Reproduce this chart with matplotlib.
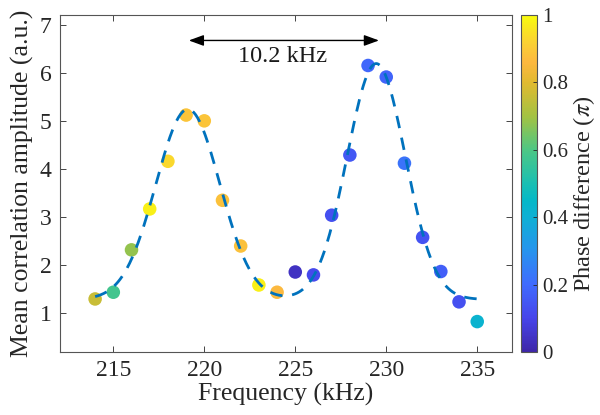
import numpy as np
import matplotlib
matplotlib.use("Agg")
import matplotlib.pyplot as plt
from matplotlib.colors import LinearSegmentedColormap

plt.rcParams["font.family"] = ["Liberation Serif", "DejaVu Serif"]
plt.rcParams["mathtext.fontset"] = "stix"

# measured points
freq = [214, 215, 216, 217, 218, 219, 220, 221, 222, 223, 224,
        225, 226, 227, 228, 229, 230, 231, 232, 233, 234, 235]
amp = [1.30, 1.44, 2.32, 3.17, 4.16, 5.12, 5.00, 3.35, 2.40, 1.59, 1.44,
       1.86, 1.80, 3.04, 4.29, 6.15, 5.91, 4.12, 2.58, 1.87, 1.24, 0.83]
phase = [0.76, 0.58, 0.68, 0.98, 0.93, 0.89, 0.89, 0.88, 0.88, 0.98, 0.86,
         0.04, 0.11, 0.13, 0.15, 0.19, 0.18, 0.22, 0.14, 0.17, 0.13, 0.42]

# double-gaussian fit (parameters)
fit_base = 1.29
fit_centers = [219.1, 229.45]
fit_heights = [3.95, 4.9]
fit_widths = [1.76, 1.6]
fit_range = [214, 235]

split_f = [219.15, 229.6]
split_label = "10.2 kHz"

# MATLAB parula-like map
parula = LinearSegmentedColormap.from_list("parula", [
    (0.00, (0.243, 0.150, 0.660)),
    (0.10, (0.277, 0.270, 0.920)),
    (0.20, (0.250, 0.420, 0.995)),
    (0.30, (0.150, 0.580, 0.930)),
    (0.40, (0.060, 0.690, 0.830)),
    (0.45, (0.020, 0.720, 0.780)),
    (0.50, (0.100, 0.750, 0.700)),
    (0.60, (0.300, 0.780, 0.520)),
    (0.70, (0.640, 0.760, 0.260)),
    (0.80, (0.880, 0.730, 0.190)),
    (0.86, (0.990, 0.720, 0.250)),
    (0.92, (0.980, 0.820, 0.200)),
    (1.00, (0.976, 0.983, 0.054)),
])

fig = plt.figure(figsize=(6, 4.15), dpi=100)
ax = fig.add_axes([0.100, 0.152, 0.753, 0.812])
cax = fig.add_axes([0.868, 0.152, 0.027, 0.812])

sc = ax.scatter(freq, amp, c=phase, cmap=parula, vmin=0, vmax=1,
                s=95, edgecolors="none", zorder=2)

xf = np.linspace(fit_range[0], fit_range[1], 400)
yf = np.full_like(xf, fit_base)
for c, h, w in zip(fit_centers, fit_heights, fit_widths):
    yf += h * np.exp(-(xf - c) ** 2 / (2 * w ** 2))
ax.plot(xf, yf, color="#0072BD", lw=2.0, dashes=(4.5, 3.5), zorder=3)

ax.annotate("", xy=(split_f[1], 6.67), xytext=(split_f[0], 6.67),
            arrowprops=dict(arrowstyle="<|-|>,head_length=0.6,head_width=0.22",
                            color="black", lw=1.0, shrinkA=0, shrinkB=0,
                            mutation_scale=15))
ax.text(sum(split_f) / 2 - 0.1, 6.22, split_label, ha="center", va="baseline",
        fontsize=17.5, color="#1a1a1a")

ax.set_xlim(212.07, 236.9)
ax.set_ylim(0.2, 7.2)
ax.set_xticks([215, 220, 225, 230, 235])
ax.set_yticks([1, 2, 3, 4, 5, 6, 7])
ax.tick_params(direction="in", length=4, width=0.6, top=True, right=True,
               labelsize=17, colors="#262626", pad=6)
for sp in ax.spines.values():
    sp.set_color("#555555")
    sp.set_linewidth(0.8)
ax.set_xlabel("Frequency (kHz)", fontsize=18.5, color="#262626", labelpad=1)
ax.set_ylabel("Mean correlation amplitude (a.u.)", fontsize=18.5,
              color="#262626", labelpad=4)

cb = fig.colorbar(sc, cax=cax)
cb.set_ticks([0, 0.2, 0.4, 0.6, 0.8, 1])
cb.set_ticklabels(["0", "0.2", "0.4", "0.6", "0.8", "1"])
cb.ax.tick_params(direction="in", length=3, width=0.6, labelsize=15,
                  colors="#262626", pad=4)
cb.outline.set_edgecolor("#555555")
cb.outline.set_linewidth(0.8)
cb.set_label(r"Phase difference ($\pi$)", fontsize=17.5, color="#262626",
             labelpad=2)
cb.ax.yaxis.label.set_y(0.47)

fig.savefig("out.png", dpi=100)
